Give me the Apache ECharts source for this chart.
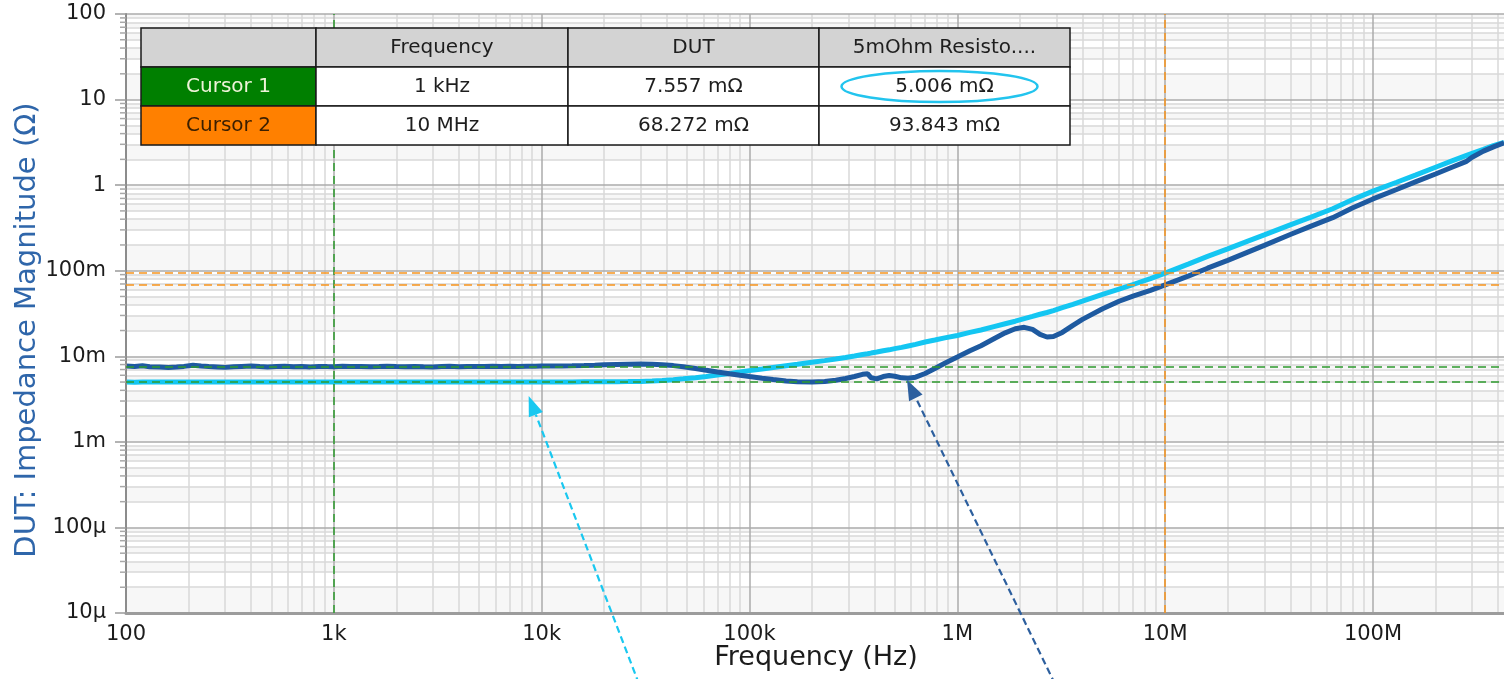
<!DOCTYPE html>
<html>
<head>
<meta charset="utf-8">
<title>Impedance Magnitude</title>
<script src="https://cdn.jsdelivr.net/npm/echarts@6/dist/echarts.min.js"></script>
<style>
  html, body { margin: 0; padding: 0; background: #ffffff; }
  #chart { width: 1504px; height: 679px; }
</style>
</head>
<body>
<div id="chart"></div>
<script>
// Sweep frequencies (Hz) shared by both traces
const freqHz = [
  100, 110, 120, 130, 145, 160, 175, 190, 210, 230, 250, 275, 300, 330, 360, 400, 440, 480, 530, 580,
  640, 700, 770, 850, 930, 1000, 1100, 1200, 1350, 1500, 1650, 1800, 2000, 2200, 2450, 2700, 3000, 3300, 3600, 4000,
  4400, 4800, 5300, 5800, 6400, 7000, 7700, 8500, 9300, 10000, 11000, 12500, 14000, 16000, 18000, 20000, 23000, 26000, 30000, 34000,
  38000, 43000, 48000, 55000, 62000, 70000, 80000, 90000, 100000, 115000, 130000, 150000, 170000, 200000, 230000, 260000, 290000, 320000, 350000, 370000,
  385000, 410000, 440000, 470000, 500000, 540000, 580000, 630000, 700000, 780000, 870000, 1e6, 1.15e6, 1.3e6, 1.5e6, 1.7e6, 1.9e6, 2.1e6, 2.3e6, 2.5e6,
  2.7e6, 2.9e6, 3.2e6, 3.6e6, 4e6, 5e6, 6e6, 7e6, 8.5e6, 1e7, 1.3e7, 1.6e7, 2e7, 2.5e7, 3e7, 4e7, 5e7, 6.4e7, 8e7, 1e8,
  1.3e8, 1.6e8, 2e8, 2.4e8, 2.8e8, 3e8, 3.4e8, 3.8e8, 4.27e8
];

// DUT impedance magnitude (mOhm)
const dutMilliohm = [
  7.70, 7.62, 7.75, 7.55, 7.48, 7.38, 7.50, 7.62, 7.85, 7.70, 7.58, 7.50, 7.42, 7.55, 7.62, 7.70, 7.58, 7.52, 7.60, 7.66,
  7.55, 7.60, 7.52, 7.62, 7.58, 7.557, 7.65, 7.58, 7.62, 7.55, 7.60, 7.66, 7.58, 7.55, 7.62, 7.57, 7.52, 7.60, 7.64, 7.56,
  7.60, 7.62, 7.58, 7.63, 7.60, 7.65, 7.62, 7.66, 7.64, 7.68, 7.70, 7.72, 7.76, 7.82, 7.88, 7.94, 8.02, 8.08, 8.10, 8.05,
  7.95, 7.78, 7.55, 7.20, 6.85, 6.55, 6.25, 6.00, 5.80, 5.55, 5.35, 5.15, 5.05, 5.00, 5.08, 5.25, 5.50, 5.80, 6.15, 6.25,
  5.60, 5.45, 5.80, 5.95, 5.85, 5.60, 5.55, 5.70, 6.30, 7.20, 8.30, 9.80, 11.6, 13.3, 16.0, 18.8, 21.0, 21.8, 20.6, 18.0,
  16.8, 17.0, 19.0, 23.0, 27.0, 36.0, 44.0, 50.5, 59.0, 68.272, 87, 107, 132, 165, 198, 265, 330, 417, 545, 690,
  890, 1090, 1350, 1620, 1880, 2120, 2500, 2800, 3120
];

// 5 mOhm reference resistor impedance magnitude (mOhm)
const resistorMilliohm = [
  5.02, 4.98, 5.01, 5.00, 4.99, 5.02, 5.00, 4.99, 5.01, 5.00, 4.99, 5.01, 5.00, 4.99, 5.00, 5.01, 5.00, 4.99, 5.00, 5.01,
  5.00, 4.99, 5.00, 5.01, 5.00, 5.006, 5.00, 4.99, 5.01, 5.00, 5.00, 4.99, 5.01, 5.00, 5.00, 4.99, 5.01, 5.00, 5.00, 5.01,
  5.00, 5.00, 5.01, 5.00, 5.00, 5.01, 5.01, 5.01, 5.01, 5.02, 5.02, 5.02, 5.02, 5.03, 5.03, 5.04, 5.05, 5.06, 5.08, 5.15,
  5.22, 5.32, 5.45, 5.62, 5.82, 6.05, 6.30, 6.55, 6.80, 7.10, 7.40, 7.75, 8.05, 8.50, 8.90, 9.30, 9.70, 10.1, 10.5, 10.7,
  10.9, 11.2, 11.6, 11.9, 12.3, 12.7, 13.2, 13.8, 14.7, 15.5, 16.4, 17.5, 19.0, 20.3, 22.2, 24.0, 25.7, 27.5, 29.2, 31.0,
  32.5, 34.2, 37.0, 40.5, 44.0, 53.0, 61.0, 69.0, 81.0, 93.843, 120, 147, 180, 222, 262, 343, 420, 530, 680, 850,
  1080, 1310, 1620, 1920, 2210, 2350, 2620, 2900, 3170
];

// Decade tick labels
const xTickLabels = ['100', '1k', '10k', '100k', '1M', '10M', '100M'];
const yTickLabels = ['10µ', '100µ', '1m', '10m', '100m', '1', '10', '100'];

// Cursor readouts
const tableHeaders = ['', 'Frequency', 'DUT', '5mOhm Resisto....'];
const cursorNames = ['Cursor 1', 'Cursor 2'];
const cursorFreqHz = [1e3, 1e7];
const cursorDutOhm = [7.557e-3, 68.272e-3];
const cursorResOhm = [5.006e-3, 93.843e-3];

const X_MIN = 100, X_MAX = 4.27e8, Y_MIN = 1e-5, Y_MAX = 100;
const FONT = '"DejaVu Sans", "Noto Sans", sans-serif';

const DUT_COLOR = '#1e5aa0';
const RES_COLOR = '#14c6f2';
const CURSOR_COLORS = ['#2e9a2e', '#f7941d'];

function decadeLabel(v, firstExp, labels) {
  const e = Math.log10(v);
  const r = Math.round(e);
  if (Math.abs(e - r) > 1e-6) return '';
  const s = labels[r - firstExp];
  return s === undefined ? '' : s;
}

function fmtFreq(hz) {
  const units = [[1e9, 'GHz'], [1e6, 'MHz'], [1e3, 'kHz'], [1, 'Hz']];
  for (const [s, u] of units) {
    if (hz >= s) return (+(hz / s).toFixed(3)) + ' ' + u;
  }
  return hz + ' Hz';
}
function fmtMilli(ohm) { return (ohm * 1e3).toFixed(3) + ' mΩ'; }

// Log grid: decade lines, 2..9 sub-lines and alternating horizontal bands
const majorX = [], minorX = [], majorY = [], minorY = [], bandsY = [];
for (let k = 2; k <= 8; k++) {
  majorX.push(Math.pow(10, k));
  for (let m = 2; m <= 9; m++) {
    const v = m * Math.pow(10, k);
    if (v < X_MAX) minorX.push(v);
  }
}
let bandIdx = 0;
for (let k = -5; k <= 2; k++) {
  majorY.push(Math.pow(10, k));
  if (k === 2) break;
  for (let m = 1; m <= 9; m++) {
    const lo = m * Math.pow(10, k), hi = (m + 1) * Math.pow(10, k);
    if (m >= 2) minorY.push(lo);
    if (bandIdx % 2 === 0) bandsY.push([lo, hi]);
    bandIdx++;
  }
}

const minorStyle = { color: '#d9d9d9', width: 1.5, type: 'solid' };
const majorStyle = { color: '#ababab', width: 1.5, type: 'solid' };
const vLine = (x, style) => [{ coord: [x, Y_MIN], lineStyle: style }, { coord: [x, Y_MAX] }];
const hLine = (y, style) => [{ coord: [X_MIN, y], lineStyle: style }, { coord: [X_MAX, y] }];

const gridLines = []
  .concat(minorX.map(v => vLine(v, minorStyle)))
  .concat(minorY.map(v => hLine(v, minorStyle)))
  .concat(majorX.map(v => vLine(v, majorStyle)))
  .concat(majorY.map(v => hLine(v, majorStyle)));

const cursorLines = [];
for (let i = 0; i < cursorFreqHz.length; i++) {
  const st = { color: CURSOR_COLORS[i], width: 1.5, type: [8, 5] };
  cursorLines.push(vLine(cursorFreqHz[i], st));
  cursorLines.push(hLine(cursorDutOhm[i], st));
  cursorLines.push(hLine(cursorResOhm[i], st));
}

const option = {
  animation: false,
  backgroundColor: '#ffffff',
  grid: { left: 126, right: 0, top: 14, bottom: 66, containLabel: false, outerBoundsMode: 'none' },
  xAxis: {
    type: 'log', logBase: 10, min: X_MIN, max: X_MAX, z: 5,
    axisLine: { show: true, lineStyle: { color: '#9c9c9c', width: 3 } },
    axisTick: { show: false },
    splitLine: { show: false },
    axisLabel: {
      margin: 11, fontSize: 21, color: '#1c1c1c', fontFamily: FONT,
      formatter: v => decadeLabel(v, 2, xTickLabels)
    }
  },
  yAxis: {
    type: 'log', logBase: 10, min: Y_MIN, max: Y_MAX, z: 5,
    axisLine: { show: true, lineStyle: { color: '#8c8c8c', width: 2 } },
    axisTick: { show: true, length: 11, lineStyle: { color: '#9a9a9a', width: 1.5 } },
    splitLine: { show: false },
    axisLabel: {
      margin: 20, fontSize: 21, color: '#1c1c1c', fontFamily: FONT,
      formatter: v => decadeLabel(v, -5, yTickLabels)
    }
  },
  series: [
    {
      name: 'grid', type: 'line', data: [], silent: true, z: 1,
      markArea: {
        silent: true, z: 1,
        itemStyle: { color: '#f7f7f7' },
        data: bandsY.map(([a, b]) => [{ coord: [X_MIN, a] }, { coord: [X_MAX, b] }])
      },
      markLine: {
        silent: true, z: 2, symbol: ['none', 'none'], animation: false,
        label: { show: false }, emphasis: { disabled: true },
        data: gridLines
      }
    },
    {
      name: '5mOhm Resistor', type: 'line', z: 3, symbol: 'none', showSymbol: false, silent: true,
      lineStyle: { color: RES_COLOR, width: 5 },
      data: freqHz.map((f, i) => [f, resistorMilliohm[i] / 1000])
    },
    {
      name: 'DUT', type: 'line', z: 3, symbol: 'none', showSymbol: false, silent: true,
      lineStyle: { color: DUT_COLOR, width: 5 },
      data: freqHz.map((f, i) => [f, dutMilliohm[i] / 1000])
    },
    {
      name: 'cursors', type: 'line', data: [], silent: true, z: 4,
      markLine: {
        silent: true, z: 6, symbol: ['none', 'none'], animation: false,
        label: { show: false }, emphasis: { disabled: true },
        data: cursorLines
      }
    }
  ]
};

const chart = echarts.init(document.getElementById('chart'), null, { renderer: 'canvas' });
chart.setOption(option);

// Overlay: axis titles, minor ticks, cursor table, callout arrows
const px = (x, y) => chart.convertToPixel({ gridIndex: 0 }, [x, y]);
const elements = [];

elements.push({
  type: 'text', x: 27, y: 330, rotation: Math.PI / 2, z: 100,
  style: { text: 'DUT: Impedance Magnitude (Ω)', fill: '#2f66aa', font: '29px ' + FONT, align: 'center', verticalAlign: 'middle' }
});
elements.push({
  type: 'text', x: 816, y: 658, z: 100,
  style: { text: 'Frequency (Hz)', fill: '#1c1c1c', font: '27px ' + FONT, align: 'center', verticalAlign: 'middle' }
});

const axisX = px(X_MIN, Y_MIN)[0];
minorY.forEach(v => {
  const y = px(X_MIN, v)[1];
  elements.push({ type: 'line', z: 10, shape: { x1: axisX - 6, y1: y, x2: axisX, y2: y }, style: { stroke: '#a8a8a8', lineWidth: 1.5 } });
});

// Cursor table
const TABLE = { left: 141, top: 28, colW: [175, 252, 251, 251], rowH: 39 };
const rows = [
  { cells: tableHeaders, fills: ['#d3d3d3', '#d3d3d3', '#d3d3d3', '#d3d3d3'], colors: ['#1e1e1e', '#1e1e1e', '#1e1e1e', '#1e1e1e'] }
];
for (let i = 0; i < cursorNames.length; i++) {
  rows.push({
    cells: [cursorNames[i], fmtFreq(cursorFreqHz[i]), fmtMilli(cursorDutOhm[i]), fmtMilli(cursorResOhm[i])],
    fills: [i === 0 ? '#007f00' : '#ff8000', '#ffffff', '#ffffff', '#ffffff'],
    colors: [i === 0 ? '#eef3d8' : '#3b1f00', '#1e1e1e', '#1e1e1e', '#1e1e1e']
  });
}
rows.forEach((row, r) => {
  let x = TABLE.left;
  const y = TABLE.top + r * TABLE.rowH;
  row.cells.forEach((txt, c) => {
    const w = TABLE.colW[c];
    elements.push({
      type: 'rect', z: 100,
      shape: { x: x, y: y, width: w, height: TABLE.rowH },
      style: { fill: row.fills[c], stroke: '#1a1a1a', lineWidth: 1.5 }
    });
    elements.push({
      type: 'text', z: 101, x: x + w / 2, y: y + TABLE.rowH / 2,
      style: { text: txt, fill: row.colors[c], font: '20px ' + FONT, align: 'center', verticalAlign: 'middle' }
    });
    x += w;
  });
});

// Highlight around the resistor reading at cursor 1
const hlCx = TABLE.left + TABLE.colW[0] + TABLE.colW[1] + TABLE.colW[2] + TABLE.colW[3] / 2 - 5;
const hlCy = TABLE.top + TABLE.rowH * 1.5;
elements.push({
  type: 'ellipse', z: 102,
  shape: { cx: hlCx, cy: hlCy, rx: 98, ry: 15.5 },
  style: { fill: null, stroke: '#22c4ee', lineWidth: 2.5 }
});

function arrow(tail, tip, color, dash) {
  const dx = tip[0] - tail[0], dy = tip[1] - tail[1];
  const L = Math.hypot(dx, dy), ux = dx / L, uy = dy / L;
  const headLen = 20, headW = 7.5;
  const bx = tip[0] - ux * headLen, by = tip[1] - uy * headLen;
  return [
    { type: 'line', z: 90, shape: { x1: tail[0], y1: tail[1], x2: bx, y2: by }, style: { stroke: color, lineWidth: 2.2, lineDash: dash } },
    { type: 'polygon', z: 90, shape: { points: [tip, [bx - uy * headW, by + ux * headW], [bx + uy * headW, by - ux * headW]] }, style: { fill: color } }
  ];
}
// Callouts pointing at the resistor trace and the DUT dip
const resTip = px(8.66e3, 3.44e-3);
const dutTip = px(5.73e5, 5.3e-3);
arrow([639, 684], resTip, '#19c8f0', [7, 4]).forEach(e => elements.push(e));
arrow([1055, 684], dutTip, '#2d5f9e', [7, 4]).forEach(e => elements.push(e));

chart.setOption({ graphic: { elements: elements } });
</script>
</body>
</html>
